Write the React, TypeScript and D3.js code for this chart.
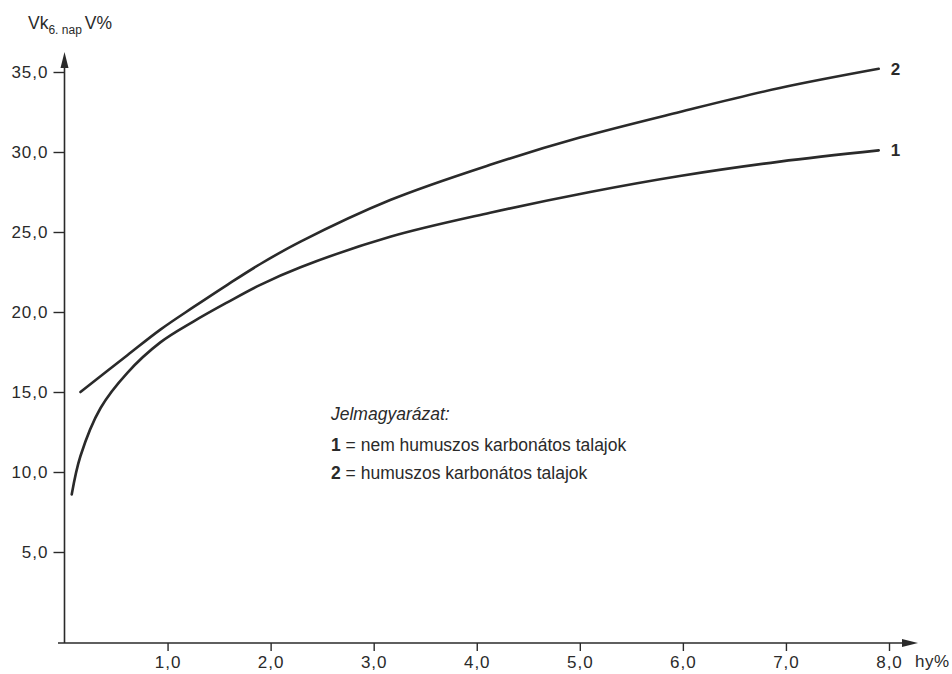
import React, { useEffect, useRef } from "react";
import * as d3 from "d3";

// curve 1: nem humuszos karbonátos talajok
const hy1 = [0.07, 0.155, 0.35, 0.61, 0.93, 1.25, 1.58, 1.9, 2.29, 3.16, 4.13, 5.1, 5.97, 6.94, 7.9];
const vk1 = [8.6, 11.0, 14.0, 16.2, 18.1, 19.4, 20.6, 21.7, 22.8, 24.7, 26.2, 27.5, 28.5, 29.4, 30.1];

// curve 2: humuszos karbonátos talajok
const hy2 = [0.155, 0.61, 0.93, 1.25, 1.58, 1.9, 2.29, 3.16, 4.13, 5.0, 5.97, 6.94, 7.9];
const vk2 = [15.0, 17.3, 18.9, 20.3, 21.7, 23.0, 24.4, 27.0, 29.2, 30.9, 32.5, 34.0, 35.2];

const xTicks = [1, 2, 3, 4, 5, 6, 7, 8];
const yTicks = [5, 10, 15, 20, 25, 30, 35];

const seriesLabels = ["1", "2"];
const legendTitle = "Jelmagyarázat:";
const legendTexts = ["nem humuszos karbonátos talajok", "humuszos karbonátos talajok"];

const FONT = "'Liberation Sans', Arial, sans-serif";
const INK = "#2a2a2a";

function Chart() {
  const ref = useRef<SVGSVGElement | null>(null);

  useEffect(() => {
    const svg = d3.select(ref.current);
    svg.selectAll("*").remove();

    const x0 = 64.5;
    const axisY = 643;

    const x = d3.scaleLinear().domain([0, 8]).range([x0, 889]);
    const y = d3.scaleLinear().domain([0, 35]).range([632, 72]);

    const fmt = (d: number) => d3.format(".1f")(d).replace(".", ",");

    // x axis ticks
    const gx = svg
      .append("g")
      .attr("transform", `translate(0, ${axisY})`)
      .call(d3.axisBottom(x).tickValues(xTicks).tickSize(8).tickPadding(5).tickFormat(fmt as any));
    gx.select(".domain").remove();
    gx.selectAll("line").attr("stroke", INK).attr("stroke-width", 1.4);
    gx.selectAll("text")
      .attr("fill", INK)
      .style("font-family", FONT)
      .style("font-size", "17px")
      .style("letter-spacing", "1px");

    // y axis ticks
    const gy = svg
      .append("g")
      .attr("transform", `translate(${x0}, 0)`)
      .call(d3.axisLeft(y).tickValues(yTicks).tickSize(11).tickPadding(5).tickFormat(fmt as any));
    gy.select(".domain").remove();
    gy.selectAll("line").attr("stroke", INK).attr("stroke-width", 1.4);
    gy.selectAll("text")
      .attr("fill", INK)
      .style("font-family", FONT)
      .style("font-size", "17px")
      .style("letter-spacing", "1px");

    // axis lines with arrows
    svg
      .append("line")
      .attr("x1", x0)
      .attr("x2", x0)
      .attr("y1", axisY)
      .attr("y2", 62)
      .attr("stroke", INK)
      .attr("stroke-width", 1.6);
    svg
      .append("path")
      .attr("d", `M${x0},52 L${x0 - 4},68 L${x0 + 4},68 Z`)
      .attr("fill", INK);

    svg
      .append("line")
      .attr("x1", 58)
      .attr("x2", 906)
      .attr("y1", axisY)
      .attr("y2", axisY)
      .attr("stroke", INK)
      .attr("stroke-width", 1.6);
    svg
      .append("path")
      .attr("d", `M918,${axisY} L902,${axisY - 4} L902,${axisY + 4} Z`)
      .attr("fill", INK);

    // axis titles
    const yTitle = svg
      .append("text")
      .attr("x", 28)
      .attr("y", 29)
      .attr("fill", INK)
      .style("font-family", FONT)
      .style("font-size", "17.5px");
    yTitle.append("tspan").text("Vk");
    yTitle.append("tspan").attr("dy", 5).style("font-size", "12px").text("6. nap");
    yTitle.append("tspan").attr("dy", -5).attr("dx", 3).text("V%");

    svg
      .append("text")
      .attr("x", 915)
      .attr("y", 667)
      .attr("fill", INK)
      .style("font-family", FONT)
      .style("font-size", "17px")
      .style("letter-spacing", "0.5px")
      .text("hy%");

    // curves
    const line = d3
      .line<[number, number]>()
      .x((d) => x(d[0]))
      .y((d) => y(d[1]))
      .curve(d3.curveCatmullRom.alpha(0.5));

    const series = [
      hy1.map((h, i) => [h, vk1[i]] as [number, number]),
      hy2.map((h, i) => [h, vk2[i]] as [number, number]),
    ];

    svg
      .selectAll(".curve")
      .data(series)
      .join("path")
      .attr("class", "curve")
      .attr("d", (d) => line(d))
      .attr("fill", "none")
      .attr("stroke", INK)
      .attr("stroke-width", 2.6)
      .attr("stroke-linecap", "round");

    svg
      .selectAll(".end-label")
      .data(series)
      .join("text")
      .attr("class", "end-label")
      .attr("x", (d) => x(d[d.length - 1][0]) + 12)
      .attr("y", (d) => y(d[d.length - 1][1]) + 6)
      .attr("fill", INK)
      .style("font-family", FONT)
      .style("font-size", "17px")
      .style("font-weight", "bold")
      .text((d, i) => seriesLabels[i]);

    // legend
    const legend = svg.append("g").attr("transform", "translate(331, 0)");
    legend
      .append("text")
      .attr("y", 420)
      .attr("fill", INK)
      .style("font-family", FONT)
      .style("font-size", "17.5px")
      .style("font-style", "italic")
      .text(legendTitle);

    legendTexts.forEach((t, i) => {
      const row = legend
        .append("text")
        .attr("y", 451 + i * 28)
        .attr("fill", INK)
        .style("font-family", FONT)
        .style("font-size", "17.5px");
      row.append("tspan").style("font-weight", "bold").text(seriesLabels[i]);
      row.append("tspan").text(" = " + t);
    });
  }, []);

  return (
    <svg
      ref={ref}
      width={952}
      height={674}
      style={{ position: "absolute", left: 0, top: 0, background: "#ffffff" }}
    />
  );
}

export default function App() {
  return <Chart />;
}
